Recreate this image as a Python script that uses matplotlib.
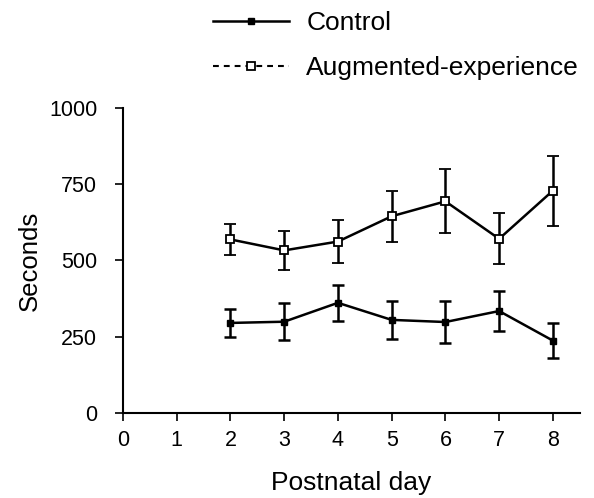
import numpy as np
import matplotlib.pyplot as plt
from matplotlib.lines import Line2D

plt.rcParams['font.family'] = ['Liberation Sans', 'DejaVu Sans']

days = [2, 3, 4, 5, 6, 7, 8]
control = [295, 299, 361, 305, 298, 334, 237]
control_err = [46, 60, 60, 62, 70, 65, 57]
augmented = [569, 533, 562, 645, 694, 571, 729]
augmented_err = [50, 63, 70, 83, 105, 84, 115]
x_ticks = [0, 1, 2, 3, 4, 5, 6, 7, 8]
y_ticks = [0, 250, 500, 750, 1000]

fig = plt.figure(figsize=(5.94, 4.98), dpi=100)
ax = fig.add_axes([0.207, 0.171, 0.769, 0.612])

ax.errorbar(days, control, yerr=control_err, color='black', lw=1.8,
            marker='s', ms=5, mfc='black', mec='black',
            capsize=4, capthick=1.8, elinewidth=1.8)
ax.errorbar(days, augmented, yerr=augmented_err, color='black', lw=1.8,
            marker='s', ms=6, mfc='white', mec='black', mew=1.3,
            capsize=4, capthick=1.8, elinewidth=1.8)

ax.set_xlim(0, 8.5)
ax.set_ylim(0, 1000)
ax.set_xticks(x_ticks)
ax.set_yticks(y_ticks)
ax.spines['top'].set_visible(False)
ax.spines['right'].set_visible(False)
ax.spines['left'].set_linewidth(1.5)
ax.spines['bottom'].set_linewidth(1.5)
ax.tick_params(width=1.2, length=6, labelsize=15.5)
ax.tick_params(axis='y', pad=12.5)
ax.tick_params(axis='x', pad=6)
ax.set_ylabel('Seconds', fontsize=18.5, labelpad=5)
ax.set_xlabel('Postnatal day', fontsize=19, labelpad=15)

# legend handles: solid/filled for control, dashed/open for augmented
handles = [
    Line2D([], [], color='black', lw=1.8, marker='s', ms=5, mfc='black'),
    Line2D([], [], color='black', lw=1.5, ls=(0, (2.8, 2.4)), marker='s', ms=6,
           mfc='white', mew=1.3),
]
fig.legend(handles, ['Control', 'Augmented-experience'],
           loc='upper left', bbox_to_anchor=(0.318, 1.025), frameon=False,
           fontsize=19, handlelength=2.9, handletextpad=0.65, labelspacing=0.8)

fig.savefig('out.png', dpi=100)
